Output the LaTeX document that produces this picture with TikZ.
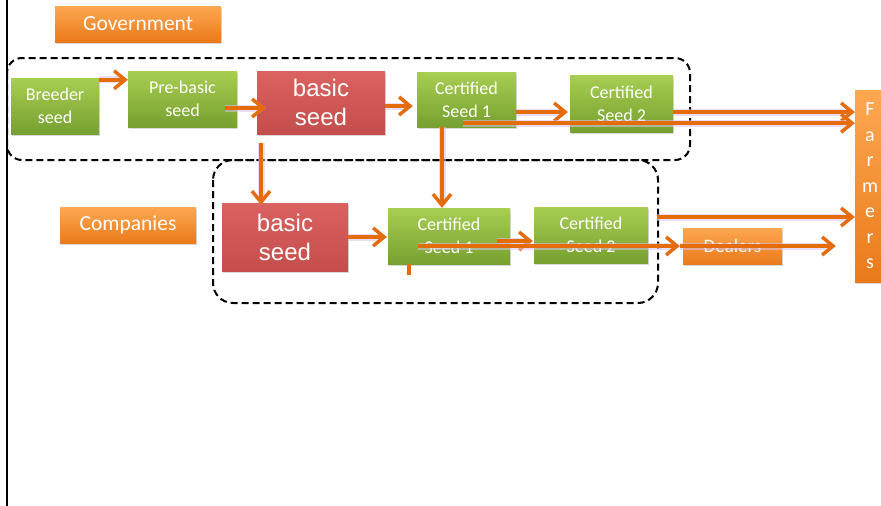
\documentclass[tikz,border=0pt]{standalone}
\usepackage{fontspec}
\setmainfont{Carlito}
\newfontfamily\arialfont{Liberation Sans}
\usetikzlibrary{arrows.meta,shadows}
\definecolor{arrorange}{HTML}{E46C0A}
\definecolor{glow}{RGB}{215,195,240}
\tikzset{
  boxbase/.style={rectangle, text=white, align=center, inner sep=1pt,
    drop shadow={shadow xshift=1pt, shadow yshift=-1.5pt, opacity=0.3}},
  greenbox/.style={boxbase,
    top color={rgb,255:red,168;green,206;blue,82}, bottom color={rgb,255:red,118;green,160;blue,48},
    font=\fontsize{18}{23}\selectfont},
  redbox/.style={boxbase, top color={rgb,255:red,218;green,98;blue,96}, bottom color={rgb,255:red,196;green,78;blue,76},
    font=\arialfont\fontsize{24}{29}\selectfont},
  orangebox/.style={boxbase, top color={rgb,255:red,253;green,168;blue,82}, bottom color={rgb,255:red,234;green,122;blue,26},
    font=\fontsize{21.5}{24}\selectfont},
  arr/.style={draw=arrorange, line width=3.6pt, -{Straight Barb[length=11pt,width=18pt,line width=3.4pt]},
    preaction={draw=glow, line width=7pt, opacity=0.55}},
  plainline/.style={draw=arrorange, line width=3.6pt},
  groupbox/.style={draw=black, dashed, dash pattern=on 7pt off 4pt, line width=2pt}
}
\begin{document}
\begin{tikzpicture}[x=1pt,y=-1pt]
\useasboundingbox (0,0) rectangle (881,506);
\fill[white] (0,0) rectangle (881,506);
% left border line
\draw[line width=2pt] (7,0) -- (7,506);
% group frames
\draw[groupbox, rounded corners=15pt] (7,58) rectangle (690,160);
\draw[groupbox, rounded corners=20pt] (213,160) rectangle (658,303);
% nodes
\node[orangebox, minimum width=166pt, minimum height=36pt] (gov) at (138,24) {Government};
\node[orangebox, minimum width=136pt, minimum height=36pt] (comp) at (128,225) {Companies};
\node[greenbox, minimum width=88pt, minimum height=56pt] (breeder) at (55,106) {Breeder\\seed};
\node[greenbox, minimum width=109pt, minimum height=56pt] (prebasic) at (182.5,99) {Pre-basic\\seed};
\node[redbox, minimum width=128pt, minimum height=63pt] (basicA) at (321,102.5) {basic\\seed};
\node[greenbox, minimum width=99pt, minimum height=55pt] (certA1) at (466.5,99.5) {Certified\\Seed 1};
\node[greenbox, minimum width=103pt, minimum height=57pt] (certA2) at (621.5,103.5) {Certified\\Seed 2};
\node[redbox, minimum width=126pt, minimum height=68pt] (basicB) at (285,237) {basic\\seed};
\node[greenbox, minimum width=122pt, minimum height=56pt] (certB1) at (449,236) {Certified\\Seed 1};
\node[greenbox, minimum width=114pt, minimum height=56pt] (certB2) at (591,235) {Certified\\Seed 2};
\node[orangebox, font=\fontsize{19}{22}\selectfont, minimum width=99pt, minimum height=36pt] (dealers) at (732.5,246) {Dealers};
\node[orangebox, minimum width=30pt, minimum height=192pt, font=\fontsize{20}{25.5}\selectfont] (farmers) at (870,186) {F\\a\\r\\m\\e\\r\\s};
% helper coordinates
\path ([yshift=-8.5pt]certA2.east) coordinate (p5);
\path ([xshift=-3.5pt,yshift=4pt]certA1.south) coordinate (p6);
\path ([xshift=-31pt,yshift=-10pt]certB1.center) coordinate (p11);
\path ([xshift=9pt,yshift=18pt]certB2.east) coordinate (p13);
% connectors
\draw[arr] ([yshift=-2pt]breeder.north east) -- ([yshift=-9pt]prebasic.north west);
\draw[arr] ([xshift=-12pt,yshift=-9pt]prebasic.east) -- ([xshift=9pt,yshift=-5.5pt]basicA.west);
\draw[arr] ([yshift=-3.5pt]basicA.east) -- ([xshift=-4pt,yshift=-6.5pt]certA1.west);
\draw[arr] ([yshift=-12.5pt]certA1.east) -- ([xshift=-2pt,yshift=-8.5pt]certA2.west);
\draw[arr] (p5) -- (farmers.west |- p5);
\draw[arr] (p6) -- (farmers.west |- p6);
\draw[arr] ([xshift=-60pt,yshift=-9pt]basicA.south) -- ([xshift=-24pt,yshift=-2pt]basicB.north);
\draw[arr] ([xshift=-24.5pt]certA1.south) -- ([xshift=-7pt]certB1.north);
\draw[arr] (basicB.east) -- ([xshift=-1pt,yshift=-1pt]certB1.west);
\draw[arr] ([xshift=-13pt,yshift=-5pt]certB1.east) -- ([xshift=-1pt,yshift=-6pt]certB2.west);
\draw[arr] (p13) -- (farmers.west |- p13);
\draw[arr] (p11) -- ([xshift=-3pt]dealers.west);
\draw[arr] ([xshift=-3pt]dealers.west) -- ([xshift=-19pt]farmers.west |- dealers.west);
\draw[plainline] ([xshift=-40pt]certB1.south) -- ([xshift=-40pt,yshift=-11pt]certB1.south);
\end{tikzpicture}
\end{document}
